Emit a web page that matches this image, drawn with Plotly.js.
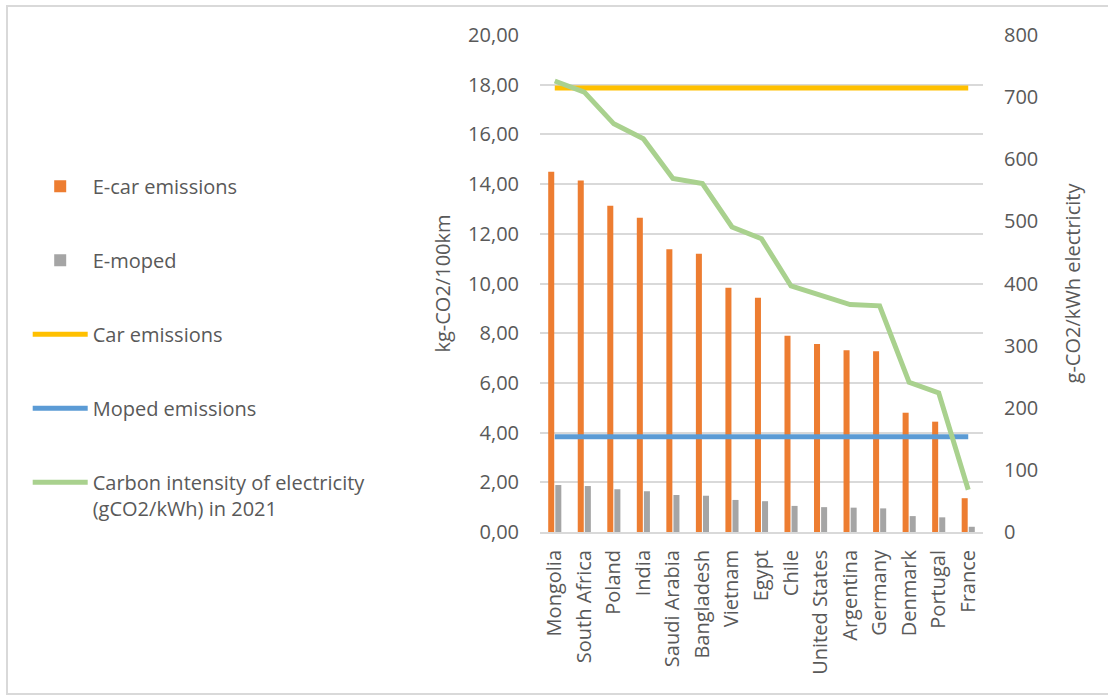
<!DOCTYPE html>
<html>
<head>
<meta charset="utf-8">
<script src="https://cdn.plot.ly/plotly-3.0.1.min.js"></script>
<style>
  html, body { margin: 0; padding: 0; background: #fff; }
  #wrap { position: relative; width: 1108px; height: 695px; }
  #chart { width: 1108px; height: 695px; }
  #frame { position: absolute; left: 6px; top: 5px; width: 1110px; height: 686px;
           border: 2px solid #D9D9D9; pointer-events: none; box-sizing: content-box; }
</style>
</head>
<body>
<div id="wrap">
  <div id="chart"></div>
  <div id="frame"></div>
</div>
<script>
const countries = ["Mongolia", "South Africa", "Poland", "India", "Saudi Arabia", "Bangladesh",
  "Vietnam", "Egypt", "Chile", "United States", "Argentina", "Germany", "Denmark", "Portugal", "France"];
const eCarEmissions = [14.50, 14.14, 13.13, 12.65, 11.38, 11.20, 9.83, 9.43, 7.90, 7.57, 7.31, 7.27, 4.80, 4.44, 1.36];
const eMoped = [1.89, 1.85, 1.72, 1.64, 1.49, 1.46, 1.29, 1.24, 1.05, 1.00, 0.98, 0.95, 0.64, 0.59, 0.21];
const carEmissions = [17.87, 17.87, 17.87, 17.87, 17.87, 17.87, 17.87, 17.87, 17.87, 17.87, 17.87, 17.87, 17.87, 17.87, 17.87];
const mopedEmissions = [3.83, 3.83, 3.83, 3.83, 3.83, 3.83, 3.83, 3.83, 3.83, 3.83, 3.83, 3.83, 3.83, 3.83, 3.83];
const carbonIntensity = [726, 708, 657, 633, 569, 561, 491, 472, 396, 381, 366, 364, 241, 224, 68];
const leftTicks = [0, 2, 4, 6, 8, 10, 12, 14, 16, 18, 20];
const leftTickLabels = ["0,00", "2,00", "4,00", "6,00", "8,00", "10,00", "12,00", "14,00", "16,00", "18,00", "20,00"];

const FONT = "Open Sans, sans-serif";
const TXT = "#595959";

const traces = [
  { type: "bar", name: "E-car emissions", x: countries, y: eCarEmissions,
    marker: { color: "#ED7D31" }, legendgroup: "a", yaxis: "y" },
  { type: "bar", name: "E-moped", x: countries, y: eMoped,
    marker: { color: "#A5A5A5" }, legendgroup: "b", yaxis: "y" },
  { type: "scatter", mode: "lines", name: "Car emissions", x: countries, y: carEmissions,
    line: { color: "#FFC000", width: 5 }, legendgroup: "c", yaxis: "y" },
  { type: "scatter", mode: "lines", name: "Moped emissions", x: countries, y: mopedEmissions,
    line: { color: "#5B9BD5", width: 5 }, legendgroup: "d", yaxis: "y" },
  { type: "scatter", mode: "lines", name: "Carbon intensity of electricity<br>(gCO2/kWh) in 2021",
    x: countries, y: carbonIntensity,
    line: { color: "#A9D18E", width: 5 }, legendgroup: "e", yaxis: "y2" }
];

const layout = {
  width: 1108, height: 695,
  paper_bgcolor: "rgba(0,0,0,0)", plot_bgcolor: "rgba(0,0,0,0)",
  font: { family: FONT, size: 20, color: TXT },
  margin: { l: 540, r: 125, t: 35, b: 163 },
  barmode: "group", bargap: 0.52, bargroupgap: 0.15,
  showlegend: true,
  legend: {
    xref: "container", yref: "container", x: 0.025, y: 0.76, xanchor: "left", yanchor: "top",
    font: { family: FONT, size: 20, color: TXT },
    tracegroupgap: 45, itemwidth: 55, valign: "top", traceorder: "grouped",
    maxheight: 650
  },
  xaxis: {
    type: "category", range: [-0.5, 14.5], tickangle: -90,
    showline: true, linecolor: "#D9D9D9", linewidth: 2,
    showgrid: false, ticks: "", ticklabelstandoff: 8,
    tickfont: { family: FONT, size: 20, color: TXT }, automargin: false
  },
  yaxis: {
    range: [0, 20], tickvals: leftTicks, ticktext: leftTickLabels,
    showgrid: true, gridcolor: "#D9D9D9", gridwidth: 2, zeroline: false,
    ticks: "", ticklabelstandoff: 20, automargin: false,
    tickfont: { family: FONT, size: 20, color: TXT },
    title: { text: "kg-CO2/100km", font: { family: FONT, size: 20, color: TXT }, standoff: 12 }
  },
  yaxis2: {
    range: [0, 800], dtick: 100, overlaying: "y", side: "right",
    showgrid: false, zeroline: false, ticks: "", ticklabelstandoff: 20, automargin: false,
    tickfont: { family: FONT, size: 20, color: TXT },
    title: { text: "g-CO2/kWh electricity", font: { family: FONT, size: 20, color: TXT }, standoff: 28 }
  }
};

Plotly.newPlot("chart", traces, layout, { displayModeBar: false, staticPlot: true });
</script>
</body>
</html>
